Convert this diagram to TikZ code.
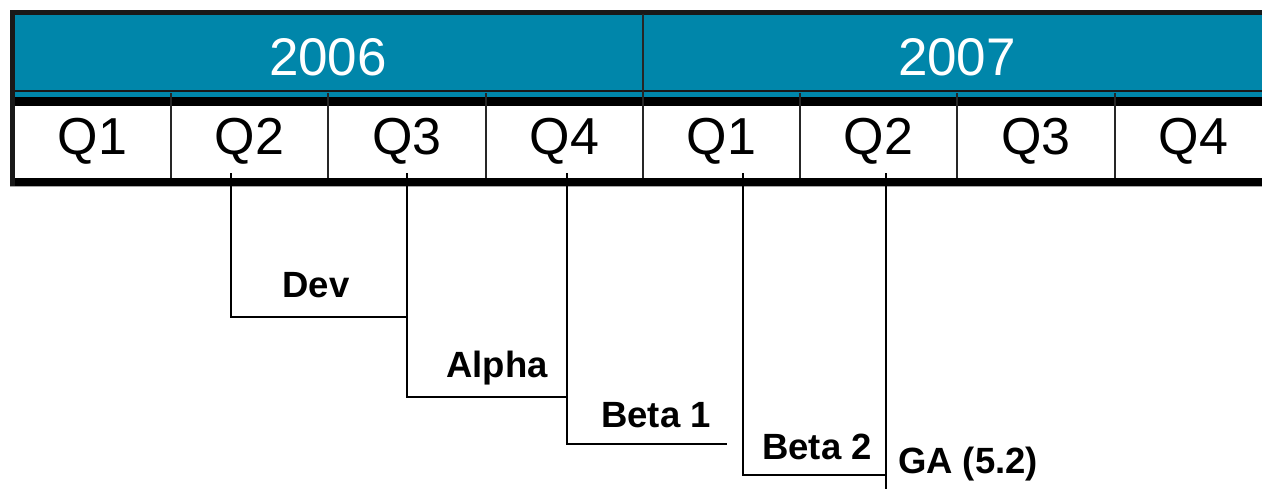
\documentclass[tikz,border=0pt]{standalone}
\usepackage{fontspec}
\setmainfont{Liberation Sans}
\definecolor{bandteal}{RGB}{0,134,170}
\begin{document}
\begin{tikzpicture}[x=1pt,y=-1pt,
  yearlbl/.style={anchor=base,text=white,font=\fontsize{53}{60}\selectfont,inner sep=0pt},
  qlbl/.style={anchor=base,text=black,font=\fontsize{52}{60}\selectfont,inner sep=0pt},
  msl/.style={anchor=base,font=\fontsize{36.5}{42}\selectfont\bfseries,inner sep=0pt},
  mline/.style={line width=2pt,black},
  divider/.style={line width=2pt,black!85}]
\useasboundingbox (0,0) rectangle (1262,488);
% header band and quarter row
\fill[bandteal] (12,12) rectangle (1275,97);
\fill[white] (12,106) rectangle (1275,178);
\draw[line width=5pt,black!90] (10,12.5) -- (1275,12.5);
\draw[line width=2pt,black!90] (12,90.5) -- (1275,90.5);
\draw[line width=9pt,black] (12,101.5) -- (1275,101.5);
\draw[line width=8pt,black] (10,182) -- (1275,182);
\draw[line width=1pt,black!35] (10,186.5) -- (1275,186.5);
\draw[line width=5pt,black!90] (12.5,10) -- (12.5,186);
% year divider
\draw[divider] (643,14) -- (643,178);
% quarter dividers
\foreach \x in {171,328,486,800,957,1115}
  \draw[divider] (\x,93) -- (\x,178);
% year labels
\node[yearlbl] (y2006) at (328,75) {2006};
\node[yearlbl] (y2007) at (957,75) {2007};
% quarter labels
\node[qlbl] (q1a) at (92.5,154) {Q1};
\node[qlbl] (q2a) at (249.5,154) {Q2};
\node[qlbl] (q3a) at (407,154) {Q3};
\node[qlbl] (q4a) at (564.5,154) {Q4};
\node[qlbl] (q1b) at (721.5,154) {Q1};
\node[qlbl] (q2b) at (878.5,154) {Q2};
\node[qlbl] (q3b) at (1036,154) {Q3};
\node[qlbl] (q4b) at (1193.5,154) {Q4};
% milestone ticks
\coordinate (t1) at (231,173);
\coordinate (t2) at (407,173);
\coordinate (t3) at (567,173);
\coordinate (t4) at (743,173);
\coordinate (t5) at (886,173);
% ends of the step lines
\coordinate (e1) at (407,317);
\coordinate (e2) at (567,397);
\coordinate (e3) at (727,444);
\coordinate (e4) at (886,475);
\coordinate (e5) at (886,492);
\draw[mline] (t1) |- (e1);
\draw[mline] (t2) |- (e2);
\draw[mline] (t3) |- (e3);
\draw[mline] (t4) |- (e4);
\draw[mline] (t5) -- (e5);
% milestone labels
\node[msl] (dev) at (316,297) {Dev};
\node[msl] (alpha) at (497,377) {Alpha};
\node[msl] (beta1) at (656,427) {Beta 1};
\node[msl] (beta2) at (817,459) {Beta 2};
\node[msl] (ga) at (968,473) {GA (5.2)};
\end{tikzpicture}
\end{document}
